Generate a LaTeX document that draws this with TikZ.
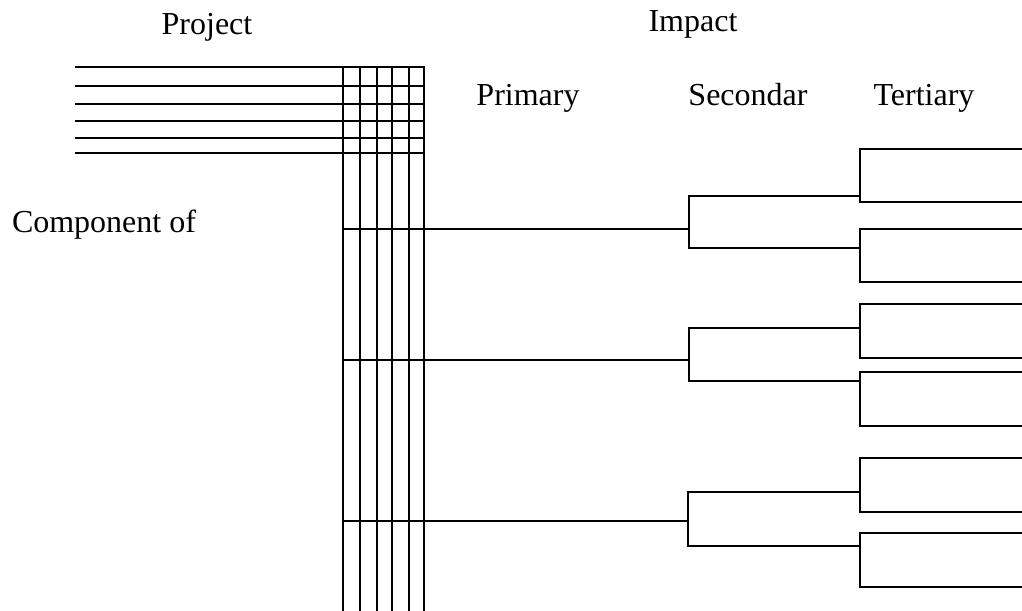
\documentclass[tikz,border=0pt]{standalone}
\usepackage{fontspec}
\setmainfont{Liberation Serif}
\tikzset{
  lbl/.style={font=\fontsize{32}{36}\selectfont, anchor=base, inner sep=0pt},
  ln/.style={line width=2pt, line cap=rect},
}
\begin{document}
\begin{tikzpicture}[x=1pt,y=-1pt]
\useasboundingbox (0,0) rectangle (1022,610);
% labels
\node[lbl] (project) at (207,35) {Project};
\node[lbl] (impact) at (693,32) {Impact};
\node[lbl] (primary) at (528,105) {Primary};
\node[lbl] (secondar) at (748,105) {Secondar};
\node[lbl] (tertiary) at (924,105) {Tertiary};
\node[lbl] (component) at (104,232) {Component of};
% project horizontal lines
\foreach \i/\y in {1/67,2/86,3/104,4/121,5/138,6/153}{
  \coordinate (hl\i) at (76,\y);
  \coordinate (hr\i) at (424,\y);
  \draw[ln] (hl\i) -- (hr\i);
}
% grid verticals
\foreach \i/\x in {1/343,2/360,3/377,4/392,5/409,6/424}{
  \coordinate (vt\i) at (\x,67);
  \coordinate (vb\i) at (\x,612);
  \draw[ln] (vt\i) -- (vb\i);
}
% impact trees: primary y, bracket x, sec top, sec bottom, tert tops/bottoms
\foreach \g/\py/\bx/\sa/\sb/\ta/\tb/\tc/\td in {
  1/229/689/196/248/149/202/229/282,
  2/360/689/328/381/304/358/372/426,
  3/521/688/492/546/458/512/533/587}{
  \coordinate (p\g) at (343,\py);
  \coordinate (pj\g) at (\bx,\py);
  \coordinate (sa\g) at (\bx,\sa);
  \coordinate (sb\g) at (\bx,\sb);
  \coordinate (saj\g) at (860,\sa);
  \coordinate (sbj\g) at (860,\sb);
  \coordinate (ta\g) at (860,\ta);
  \coordinate (tb\g) at (860,\tb);
  \coordinate (tc\g) at (860,\tc);
  \coordinate (td\g) at (860,\td);
  \coordinate (tae\g) at (1024,\ta);
  \coordinate (tbe\g) at (1024,\tb);
  \coordinate (tce\g) at (1024,\tc);
  \coordinate (tde\g) at (1024,\td);
  \draw[ln] (p\g) -- (pj\g);
  \draw[ln] (sa\g) -- (sb\g);
  \draw[ln] (sa\g) -- (saj\g);
  \draw[ln] (sb\g) -- (sbj\g);
  \draw[ln] (tae\g) -- (ta\g) -- (tb\g) -- (tbe\g);
  \draw[ln] (tce\g) -- (tc\g) -- (td\g) -- (tde\g);
}
\end{tikzpicture}
\end{document}
